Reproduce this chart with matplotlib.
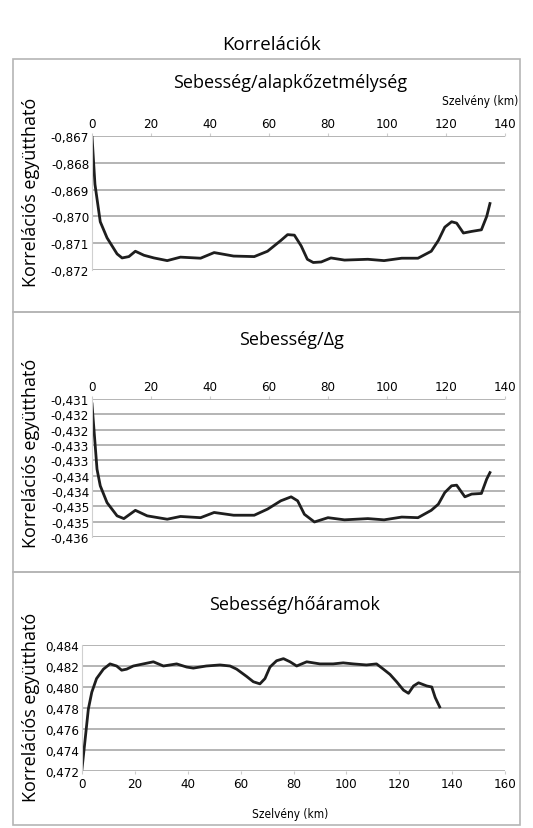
import matplotlib.pyplot as plt
from matplotlib.patches import Rectangle

# Sebesség/alapkőzetmélység
x1 = [0, 1, 2.8, 5.1, 8.5, 10.2, 12.5, 14.7, 17.6, 21, 25.5, 30, 36.8, 41.4, 48, 55, 59.5,
      64, 66.3, 68.6, 70.9, 73, 75, 77.7, 81, 85.6, 93.5, 99, 105, 110.5, 115, 117.4,
      119.6, 121.9, 123.6, 125.9, 128.7, 132, 133.8, 134.9]
y1 = [-0.8670, -0.8688, -0.87020, -0.87080, -0.87140, -0.87155, -0.87150, -0.87130,
      -0.87145, -0.87155, -0.87165, -0.87152, -0.87156, -0.87135, -0.87148, -0.87150,
      -0.87130, -0.87090, -0.87068, -0.87070, -0.87110, -0.87160, -0.87172, -0.87170,
      -0.87155, -0.87163, -0.87160, -0.87165, -0.87156, -0.87156, -0.87130, -0.87090,
      -0.87040, -0.87020, -0.87025, -0.87062, -0.87056, -0.87050, -0.87000, -0.86952]

# Sebesség/Δg
x2 = [0, 1.7, 2.8, 5.1, 8.5, 10.8, 14.7, 18.7, 25.5, 30, 36.8, 41.4, 48, 55, 59.5, 64,
      67.5, 69.7, 72, 75.4, 80, 85.6, 93.5, 99, 105, 110.5, 115, 117.4, 119.6, 121.9,
      123.6, 126.4, 128.7, 132, 133.8, 134.9]
y2 = [-0.43126, -0.43339, -0.43393, -0.43448, -0.43491, -0.43500, -0.43473, -0.43491,
      -0.43502, -0.43493, -0.43497, -0.43480, -0.43489, -0.43489, -0.43469, -0.43442,
      -0.43429, -0.43442, -0.43486, -0.43511, -0.43497, -0.43504, -0.43500, -0.43504,
      -0.43495, -0.43497, -0.43473, -0.43453, -0.43415, -0.43393, -0.43391, -0.43429,
      -0.43420, -0.43418, -0.43371, -0.43350]

# Sebesség/hőáramok
x3 = [0, 1.1, 2.4, 3.7, 5.5, 8.1, 10.6, 13.1, 15, 16.9, 19.4, 23.2, 27, 30.8, 35.8, 39.6,
      42.1, 47, 52.2, 56, 58.5, 62.3, 64.8, 67.3, 69.2, 71.1, 73.6, 76.2, 78.7, 81.2, 85,
      90, 95, 98.8, 102.6, 107.6, 111.4, 114, 116.5, 119, 121.6, 123.5, 125.4, 127.3,
      130.4, 132.3, 133.6, 135.3]
y3 = [0.4722, 0.4748, 0.4779, 0.4795, 0.4808, 0.4817, 0.4822, 0.4820, 0.4816, 0.4817,
      0.4820, 0.4822, 0.4824, 0.4820, 0.4822, 0.4819, 0.4818, 0.4820, 0.4821, 0.4820,
      0.4817, 0.4810, 0.4805, 0.4803, 0.4808, 0.4819, 0.4825, 0.4827, 0.4824, 0.4820,
      0.4824, 0.4822, 0.4822, 0.4823, 0.4822, 0.4821, 0.4822, 0.4817, 0.4812, 0.4805,
      0.4797, 0.4794, 0.4801, 0.4804, 0.4801, 0.4800, 0.4790, 0.4781]

yt1 = [-0.867, -0.868, -0.869, -0.870, -0.871, -0.872]
yt2 = [-0.4311, -0.4316, -0.4321, -0.4326, -0.4331, -0.4336, -0.4341, -0.4346, -0.4351, -0.4356]
yl2 = ['-0,431', '-0,432', '-0,432', '-0,433', '-0,433', '-0,434', '-0,434', '-0,435', '-0,435', '-0,436']
yt3 = [0.472, 0.474, 0.476, 0.478, 0.480, 0.482, 0.484]

TICKFONT = 'DejaVu Sans'
TITLEFONT = ['Open Sans', 'DejaVu Sans']
LINEC = '#1e1e1e'
GRIDC = '#a8a8a8'

W, H = 533, 829
fig = plt.figure(figsize=(W / 100, H / 100), dpi=100)


def fx(px):
    return px / W


def fy(py):
    return 1 - py / H


# panel frames
for top, bot in [(60, 313), (313, 573), (573, 826)]:
    fig.patches.append(Rectangle((fx(13), fy(bot)), fx(520) - fx(13), fy(top) - fy(bot),
                                 transform=fig.transFigure, fill=False,
                                 edgecolor='#b5b5b5', linewidth=1.2))


def setup(ax, yt, labels, xmax, top):
    ax.set_ylim(min(yt), max(yt))
    ax.set_yticks(yt)
    ax.set_yticklabels(labels, family=TICKFONT, fontsize=9.5, stretch='condensed')
    ax.set_xlim(0, xmax)
    xt = list(range(0, xmax + 1, 20))
    ax.set_xticks(xt)
    ax.set_xticklabels([str(v) for v in xt], family=TICKFONT, fontsize=9.5, stretch='condensed')
    if top:
        ax.xaxis.tick_top()
    ax.grid(axis='y', color=GRIDC, linewidth=1.2)
    ax.set_axisbelow(True)
    for s in ['top', 'right', 'bottom']:
        ax.spines[s].set_visible(False)
    ax.spines['left'].set_color('#d0d0d0')
    ax.tick_params(axis='both', length=2, color='#cccccc', pad=2)
    ax.tick_params(axis='y', length=0)


def fmt(v):
    return f"{v:.3f}".replace('.', ',')


ax1 = fig.add_axes([fx(92), fy(271), fx(505) - fx(92), fy(137) - fy(271)])
ax1.plot(x1, y1, color=LINEC, linewidth=2, solid_joinstyle='round')
setup(ax1, yt1, [fmt(v) for v in yt1], 140, True)

ax2 = fig.add_axes([fx(92), fy(538), fx(505) - fx(92), fy(400) - fy(538)])
ax2.plot(x2, y2, color=LINEC, linewidth=2, solid_joinstyle='round')
setup(ax2, yt2, yl2, 140, True)

ax3 = fig.add_axes([fx(82), fy(772), fx(505) - fx(82), fy(646) - fy(772)])
ax3.plot(x3, y3, color=LINEC, linewidth=2, solid_joinstyle='round')
setup(ax3, yt3, [fmt(v) for v in yt3], 160, False)

fig.text(fx(272), fy(45), 'Korrelációk', ha='center', va='center', fontsize=13.5, family=TITLEFONT)
fig.text(fx(290), fy(83), 'Sebesség/alapkőzetmélység', ha='center', va='center', fontsize=13, family=TITLEFONT)
fig.text(fx(292), fy(340), 'Sebesség/Δg', ha='center', va='center', fontsize=13, family=TITLEFONT)
fig.text(fx(295), fy(605), 'Sebesség/hőáramok', ha='center', va='center', fontsize=13, family=TITLEFONT)
for cy in [192, 453, 707]:
    fig.text(fx(31), fy(cy), 'Korrelációs együttható', ha='center', va='center', rotation=90,
             fontsize=13, family=TITLEFONT)
fig.text(fx(480), fy(102), 'Szelvény (km)', ha='center', va='center', fontsize=8.5,
         family=TICKFONT, stretch='condensed')
fig.text(fx(290), fy(815), 'Szelvény (km)', ha='center', va='center', fontsize=8.5,
         family=TICKFONT, stretch='condensed')

fig.savefig('out.png', dpi=100, facecolor='white')
